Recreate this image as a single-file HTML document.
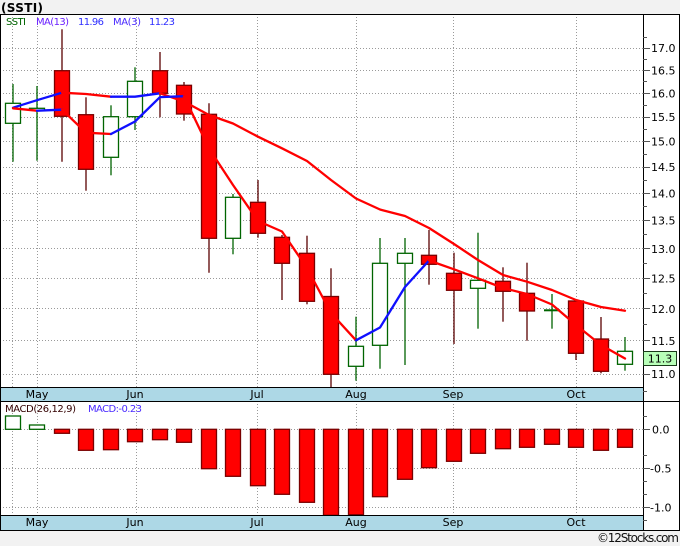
<!DOCTYPE html>
<html><head><meta charset="utf-8"><style>
html,body{margin:0;padding:0;background:#f2f2f2;}
svg{display:block;font-family:"DejaVu Sans","Liberation Sans",sans-serif;}
</style></head><body>
<svg width="680" height="546" viewBox="0 0 680 546" xmlns="http://www.w3.org/2000/svg">
<rect x="0" y="0" width="680" height="546" fill="#f2f2f2"/>
<text x="1" y="12" font-size="12" font-weight="bold" fill="#000" textLength="42">(SSTI)</text>
<!-- white chart area -->
<rect x="0" y="14" width="679" height="516" fill="#fff"/>
<!-- grid main -->
<g stroke="#9a9a9a" stroke-width="1" stroke-dasharray="1 2" fill="none">
<path d="M0 48.5H643M0 70.5H643M0 93.5H643M0 117.5H643M0 141.5H643M0 167.5H643M0 193.5H643M0 220.5H643M0 248.5H643M0 278.5H643M0 308.5H643M0 340.5H643M0 374.5H643"/>
<path d="M12.5 14V387M37.5 14V387M136.5 14V387M257.5 14V387M356.5 14V387M453.5 14V387M576.5 14V387"/>
<path d="M0 429.5H643M0 468.5H643M0 507.5H643"/>
<path d="M12.5 401V515M37.5 401V515M136.5 401V515M257.5 401V515M356.5 401V515M453.5 401V515M576.5 401V515"/>
</g>
<!-- legend -->
<text x="6" y="25" font-size="10" fill="#006400" textLength="20">SSTI</text>
<text x="36" y="25" font-size="10" fill="#6a1fff" textLength="33">MA(13)</text>
<text x="78" y="25" font-size="10" fill="#2e2eff" textLength="26">11.96</text>
<text x="113" y="25" font-size="10" fill="#4a2aff" textLength="28">MA(3)</text>
<text x="149" y="25" font-size="10" fill="#2e2eff" textLength="26">11.23</text>
<!-- candles -->
<g stroke-width="1.3">
<g stroke="#006400">
<line x1="13" y1="84" x2="13" y2="161.7"/>
<line x1="37" y1="86" x2="37" y2="160.7"/>
<line x1="111" y1="105.3" x2="111" y2="175.3"/>
<line x1="135" y1="67.3" x2="135" y2="130"/>
<line x1="233" y1="194" x2="233" y2="254.3"/>
<line x1="356" y1="316.7" x2="356" y2="380.7"/>
<line x1="380" y1="238" x2="380" y2="368.7"/>
<line x1="405" y1="238" x2="405" y2="365"/>
<line x1="478" y1="232.7" x2="478" y2="328.7"/>
<line x1="552" y1="294" x2="552" y2="328.7"/>
<line x1="625" y1="337" x2="625" y2="370.7"/>
</g>
<g stroke="#5a0000">
<line x1="62" y1="29.3" x2="62" y2="161.7"/>
<line x1="86" y1="97.3" x2="86" y2="190.7"/>
<line x1="160" y1="52" x2="160" y2="117.3"/>
<line x1="184" y1="82" x2="184" y2="120.7"/>
<line x1="209" y1="103.3" x2="209" y2="272.7"/>
<line x1="258" y1="180" x2="258" y2="237.7"/>
<line x1="282" y1="235" x2="282" y2="300"/>
<line x1="307" y1="235.7" x2="307" y2="304.3"/>
<line x1="331" y1="268.3" x2="331" y2="387"/>
<line x1="429" y1="230" x2="429" y2="284.7"/>
<line x1="454" y1="252.7" x2="454" y2="344"/>
<line x1="503" y1="267.3" x2="503" y2="321.7"/>
<line x1="527" y1="262.7" x2="527" y2="340.7"/>
<line x1="576" y1="300" x2="576" y2="360"/>
<line x1="601" y1="317" x2="601" y2="373.3"/>
</g>
</g>
<g fill="#fff" stroke="#006400" stroke-width="1.3">
<rect x="5.5" y="103.3" width="15" height="20"/>
<rect x="29.5" y="108.3" width="15" height="2"/>
<rect x="103.5" y="116.7" width="15" height="40.6"/>
<rect x="127.5" y="81.3" width="15" height="35.4"/>
<rect x="225.5" y="197.3" width="15" height="41"/>
<rect x="348.5" y="346.3" width="15" height="20"/>
<rect x="372.5" y="263.3" width="15" height="82"/>
<rect x="397.5" y="253.3" width="15" height="10"/>
<rect x="470.5" y="280.3" width="15" height="8"/>
<rect x="617.5" y="351.3" width="15" height="13"/>
</g>
<line x1="544" y1="310.3" x2="560" y2="310.3" stroke="#006400" stroke-width="2"/>
<g fill="#ff0000" stroke="#7a0000" stroke-width="1.3">
<rect x="54.5" y="70.7" width="15" height="45.6"/>
<rect x="78.5" y="114.7" width="15" height="54.6"/>
<rect x="152.5" y="70.7" width="15" height="22.6"/>
<rect x="176.5" y="85.3" width="15" height="28.7"/>
<rect x="201.5" y="114.3" width="15" height="124"/>
<rect x="250.5" y="202.3" width="15" height="31"/>
<rect x="274.5" y="237.3" width="15" height="26"/>
<rect x="299.5" y="253.3" width="15" height="48"/>
<rect x="323.5" y="296.5" width="15" height="77.8"/>
<rect x="421.5" y="255.3" width="15" height="9"/>
<rect x="446.5" y="273.3" width="15" height="17"/>
<rect x="495.5" y="281.3" width="15" height="10"/>
<rect x="519.5" y="293.3" width="15" height="17.7"/>
<rect x="568.5" y="301" width="15" height="52.3"/>
<rect x="593.5" y="339" width="15" height="32.3"/>
</g>
<!-- MA lines -->
<g fill="none" stroke-width="2.3" stroke-linejoin="round" stroke-linecap="round">
<!-- MA13 -->
<polyline stroke="#1010ff" points="13,107.7 37,100.2 62,92.7"/>
<polyline stroke="#ff0000" points="62,92.7 86,94 111,96.7"/>
<polyline stroke="#1010ff" points="111,96.7 135,96.7 160,93.3"/>
<polyline stroke="#ff0000" points="160,93.3 184,101.5 209,115 233,123.5 258,136.7 282,148.3 307,161 331,180 356,198.5 380,209.5 405,216 429,228 454,244 478,260 503,275 527,281.7 552,290 576,300 601,307 625,310.7"/>
<!-- MA3 -->
<polyline stroke="#ff0000" points="13,108.3 37,110.7"/>
<polyline stroke="#1010ff" points="37,110.7 62,109.7"/>
<polyline stroke="#ff0000" points="62,109.7 86,132.7 111,134"/>
<polyline stroke="#1010ff" points="111,134 135,121.5 160,97.1 184,96.2"/>
<polyline stroke="#ff0000" points="184,96.2 209,148.5 233,185 258,221 282,231.5 307,268 331,313 356,340.3"/>
<polyline stroke="#1010ff" points="356,340.3 380,327.5 405,287 429,260.5"/>
<polyline stroke="#ff0000" points="429,260.5 454,269.3 478,278.3 503,288 527,294 552,304.5 576,325 601,345 625,358.5"/>
</g>
<!-- MACD legend -->
<text x="5" y="412" font-size="10" fill="#330000" textLength="71">MACD(26,12,9)</text>
<text x="88" y="412" font-size="10" fill="#4a2aff" textLength="54">MACD:-0.23</text>
<!-- MACD bars -->
<rect x="5.5" y="416" width="15" height="13.3" fill="#fff" stroke="#006400" stroke-width="1.3"/>
<rect x="29.5" y="425" width="15" height="4.3" fill="#fff" stroke="#006400" stroke-width="1.3"/>
<g fill="#ff0000" stroke="#7a0000" stroke-width="1.3">
<rect x="54.5" y="429.3" width="15" height="4"/>
<rect x="78.5" y="429.3" width="15" height="21"/>
<rect x="103.5" y="429.3" width="15" height="20.4"/>
<rect x="127.5" y="429.3" width="15" height="12.4"/>
<rect x="152.5" y="429.3" width="15" height="10.4"/>
<rect x="176.5" y="429.3" width="15" height="13"/>
<rect x="201.5" y="429.3" width="15" height="39.4"/>
<rect x="225.5" y="429.3" width="15" height="47"/>
<rect x="250.5" y="429.3" width="15" height="56.4"/>
<rect x="274.5" y="429.3" width="15" height="65"/>
<rect x="299.5" y="429.3" width="15" height="73"/>
<rect x="323.5" y="429.3" width="15" height="86"/>
<rect x="348.5" y="429.3" width="15" height="85.4"/>
<rect x="372.5" y="429.3" width="15" height="67.4"/>
<rect x="397.5" y="429.3" width="15" height="50"/>
<rect x="421.5" y="429.3" width="15" height="38.4"/>
<rect x="446.5" y="429.3" width="15" height="32"/>
<rect x="470.5" y="429.3" width="15" height="24"/>
<rect x="495.5" y="429.3" width="15" height="19.4"/>
<rect x="519.5" y="429.3" width="15" height="18"/>
<rect x="544.5" y="429.3" width="15" height="15"/>
<rect x="568.5" y="429.3" width="15" height="18"/>
<rect x="593.5" y="429.3" width="15" height="21"/>
<rect x="617.5" y="429.3" width="15" height="18"/>
</g>
<!-- month bars -->
<rect x="0" y="387" width="643" height="14" fill="#add8e6"/>
<rect x="0" y="515" width="643" height="15" fill="#add8e6"/>
<g font-size="11" fill="#000" text-anchor="middle">
<text x="37" y="398">May</text><text x="135" y="398">Jun</text><text x="257" y="398">Jul</text><text x="356" y="398">Aug</text><text x="453" y="398">Sep</text><text x="576" y="398">Oct</text>
<text x="37" y="526">May</text><text x="135" y="526">Jun</text><text x="257" y="526">Jul</text><text x="356" y="526">Aug</text><text x="453" y="526">Sep</text><text x="576" y="526">Oct</text>
</g>
<!-- frame -->
<g stroke="#000" stroke-width="1" fill="none">
<path d="M0 14.5H679.5V530.5H0"/>
<path d="M0.5 14V530"/>
<path d="M643.5 14V530"/>
<path d="M0 387.5H643"/>
<path d="M0 401.5H679"/>
<path d="M0 515.5H643"/>
</g>
<!-- axis ticks -->
<g stroke="#555" stroke-width="1">
<path d="M643 48.5H650M643 70.5H650M643 93.5H650M643 117.5H650M643 141.5H650M643 167.5H650M643 193.5H650M643 220.5H650M643 248.5H650M643 278.5H650M643 308.5H650M643 340.5H650M643 374.5H650"/>
<path d="M643 37.5H647M643 59.5H647M643 81.5H647M643 105.5H647M643 129.5H647M643 154.5H647M643 180.5H647M643 206.5H647M643 234.5H647M643 263.5H647M643 293.5H647M643 324.5H647M643 357.5H647M643 391.5H647"/>
<path d="M643 429.5H650M643 468.5H650M643 507.5H650"/>
<path d="M643 416.5H647M643 455.5H647M643 481.5H647M643 494.5H647M643 520.5H647"/>
</g>
<g font-size="11" fill="#000">
<text x="651" y="52">17.0</text><text x="651" y="74.4">16.5</text><text x="651" y="97.4">16.0</text><text x="651" y="121.2">15.5</text><text x="651" y="145.7">15.0</text><text x="651" y="171.1">14.5</text><text x="651" y="197.4">14.0</text><text x="651" y="224.7">13.5</text><text x="651" y="252.9">13.0</text><text x="651" y="282.3">12.5</text><text x="651" y="312.9">12.0</text><text x="651" y="344.8">11.5</text><text x="651" y="378.1">11.0</text>
<text x="652" y="433.3">0.0</text><text x="650" y="472.3">-0.5</text><text x="650" y="511.3">-1.0</text>
</g>
<rect x="643.5" y="351.5" width="33" height="14" fill="#b8ffb8" stroke="#1a3a1a" stroke-width="1"/>
<text x="660" y="362.5" font-size="11" fill="#000" text-anchor="middle">11.3</text>
<text x="597" y="542" font-size="12" fill="#111" textLength="82">©12Stocks.com</text>
</svg>
</body></html>
